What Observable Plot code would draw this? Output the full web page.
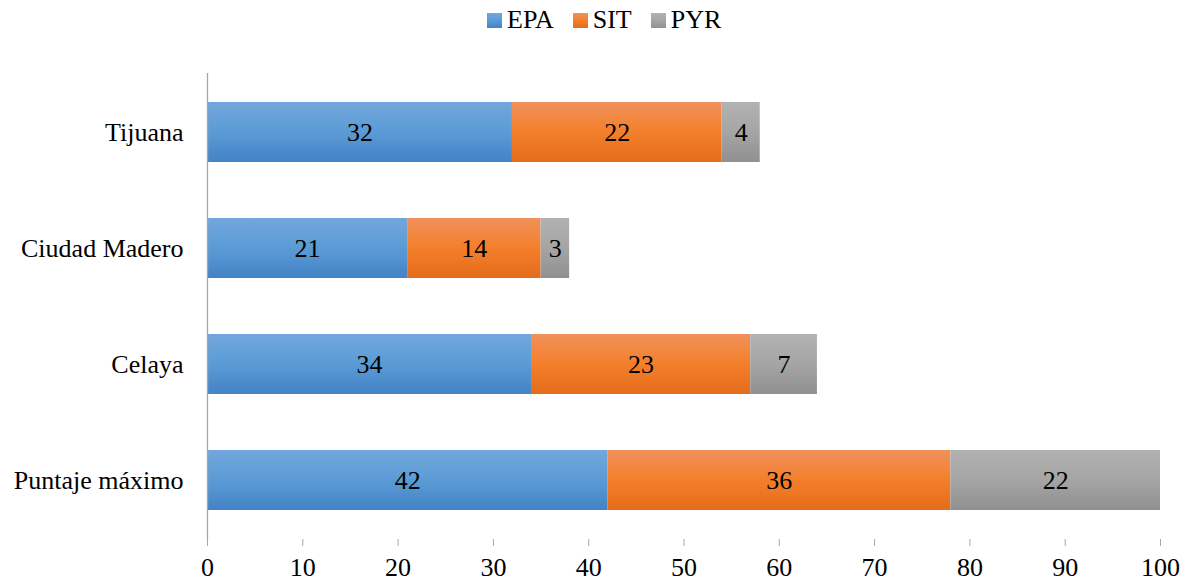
<!DOCTYPE html>
<html>
<head>
<meta charset="utf-8">
<script src="https://cdn.jsdelivr.net/npm/d3@7"></script>
<script src="https://cdn.jsdelivr.net/npm/@observablehq/plot@0.6"></script>
<style>
  html, body { margin: 0; padding: 0; background: #fff; }
  #wrap { position: relative; width: 1188px; height: 582px; font-family: "Liberation Serif", "DejaVu Serif", "Noto Serif", Tinos, serif; }
  #legend { position: absolute; top: 7px; left: 487px; font-size: 26px; line-height: 26px; white-space: nowrap; color: #000; }
  #legend .item { display: inline-block; margin-right: 19px; }
  #legend svg { display: inline-block; vertical-align: baseline; margin-right: 5px; }
  #chart svg { display: block; }
</style>
</head>
<body>
<svg width="0" height="0" style="position:absolute">
  <defs>
    <linearGradient id="gEPA" x1="0" y1="0" x2="0" y2="1">
      <stop offset="0" stop-color="#72a7dd"/>
      <stop offset="0.5" stop-color="#5b9bd5"/>
      <stop offset="1" stop-color="#4383c7"/>
    </linearGradient>
    <linearGradient id="gSIT" x1="0" y1="0" x2="0" y2="1">
      <stop offset="0" stop-color="#f0915b"/>
      <stop offset="0.5" stop-color="#f47f2b"/>
      <stop offset="1" stop-color="#e46c1b"/>
    </linearGradient>
    <linearGradient id="gPYR" x1="0" y1="0" x2="0" y2="1">
      <stop offset="0" stop-color="#b2b2b2"/>
      <stop offset="0.5" stop-color="#a5a5a5"/>
      <stop offset="1" stop-color="#909090"/>
    </linearGradient>
  </defs>
</svg>
<div id="wrap">
  <div id="legend"></div>
  <div id="chart"></div>
</div>
<script>
// Categories, top to bottom
const cities = ["Tijuana", "Ciudad Madero", "Celaya", "Puntaje máximo"];
// Series names and their fills
const seriesNames = ["EPA", "SIT", "PYR"];
const seriesFills = ["url(#gEPA)", "url(#gSIT)", "url(#gPYR)"];
// Scores per category
const epa = [32, 21, 34, 42];
const sit = [22, 14, 23, 36];
const pyr = [4, 3, 7, 22];
// X-axis ticks
const xTicks = [0, 10, 20, 30, 40, 50, 60, 70, 80, 90, 100];

const valuesBySeries = [epa, sit, pyr];
const rows = [];
cities.forEach((city, i) => {
  seriesNames.forEach((s, j) => {
    rows.push({city, series: s, value: valuesBySeries[j][i]});
  });
});

const axisColor = "#a6a6a6";
const serif = "'Liberation Serif', 'DejaVu Serif', 'Noto Serif', Tinos, serif";

const chart = Plot.plot({
  width: 1188,
  height: 582,
  marginLeft: 207,
  marginRight: 28,
  marginTop: 73,
  marginBottom: 43,
  style: {fontFamily: serif, fontSize: "26px", color: "#000", background: "#fff"},
  x: {domain: [0, 100]},
  y: {domain: cities, paddingInner: 0.485, paddingOuter: 0.2425},
  color: {domain: seriesNames, range: seriesFills},
  marks: [
    Plot.barX(rows, Plot.stackX({x: "value", y: "city", fill: "series", order: null})),
    Plot.text(rows, Plot.stackX({x: "value", y: "city", z: "series", text: d => String(d.value), order: null, fill: "#000", fontSize: 26})),
    Plot.ruleX([0], {stroke: axisColor, strokeWidth: 1.3}),
    Plot.ruleY([0], {y: () => null, frameAnchor: "bottom", stroke: axisColor, strokeWidth: 1.3}),
    Plot.axisX({ticks: xTicks, tickSize: 7, tickPadding: 11, stroke: axisColor, fontSize: 26, fill: "#000", label: null, tickFormat: d => String(d)}),
    Plot.axisY({tickSize: 0, tickPadding: 24, fontSize: 26, fill: "#000", label: null})
  ]
});
document.getElementById("chart").appendChild(chart);

// Legend row
const legend = document.getElementById("legend");
seriesNames.forEach((s, j) => {
  const item = document.createElement("span");
  item.className = "item";
  item.innerHTML = `<svg width="15" height="15"><rect width="15" height="15" fill="${seriesFills[j]}"/></svg>${s}`;
  legend.appendChild(item);
});
</script>
</body>
</html>
